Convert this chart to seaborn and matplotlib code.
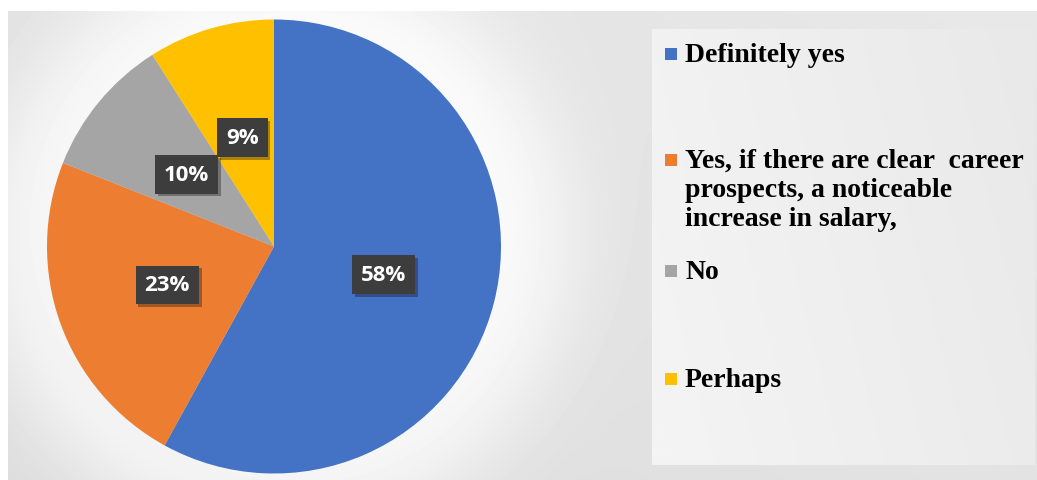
import numpy as np
import seaborn as sns
import matplotlib.pyplot as plt
import matplotlib.patheffects as pe
from matplotlib.patches import Rectangle

# survey answers and their shares (%)
answers = ['Definitely yes',
           'Yes, if there are clear  career\nprospects, a noticeable\nincrease in salary,',
           'No',
           'Perhaps']
shares = [58, 23, 10, 9]
office_colors = ['#4472C4', '#ED7D31', '#A5A5A5', '#FFC000']

sns.set_theme(style='white')
palette = sns.color_palette(office_colors)

W, H = 1037, 481
fig = plt.figure(figsize=(W / 100, H / 100), dpi=100, facecolor='white')

# background panel with a soft glow round the pie
bg = fig.add_axes([0, 0, 1, 1])
bg.axis('off')
cx, cy, r = 274, 247.5, 227
xx, yy = np.meshgrid(np.arange(8, W), np.arange(12, H))
d = np.hypot(xx - cx, yy - cy)
shade = 0.86 + 0.02 * (1 - yy / H) + 0.03 * (xx / W)
glow = 0.09 * np.exp(-((d - r) / 80.0) ** 2) * (d > r - 5)
img = np.clip(shade + glow, 0, 1)
bg.imshow(img, cmap='gray', vmin=0, vmax=1, extent=[8, W, H, 12],
          interpolation='bilinear', zorder=0)

# legend box
lx0, ly0, lx1, ly1 = 652, 30, 1035, 466
lxx, lyy = np.meshgrid(np.linspace(0, 1, 200), np.linspace(0, 1, 200))
leg_img = 0.945 - 0.035 * lxx + 0.01 * lyy
bg.imshow(leg_img, cmap='gray', vmin=0, vmax=1, extent=[lx0, lx1, ly1, ly0],
          interpolation='bilinear', zorder=1)
bg.set_xlim(0, W)
bg.set_ylim(H, 0)

baselines = [62, 168, 279, 387]
line_step = 29
for label, color, base in zip(answers, palette, baselines):
    bg.add_patch(Rectangle((665, base - 13), 12, 12, color=color, lw=0, zorder=2))
    for i, line in enumerate(label.split('\n')):
        bg.text(685, base + i * line_step, line, fontsize=20, fontweight='bold',
                family='Liberation Serif', va='baseline', ha='left',
                color='black', zorder=3)

# the pie itself
ax = fig.add_axes([(cx - r) / W, (H - cy - r) / H, 2 * r / W, 2 * r / H])
wedges, texts, autotexts = ax.pie(
    shares, colors=palette, startangle=90, counterclock=False,
    autopct='%d%%', pctdistance=0.5, radius=1.0,
    wedgeprops=dict(linewidth=0),
    textprops=dict(color='white', fontsize=16, fontweight='bold',
                   family='Open Sans'))
ax.set_xlim(-1, 1)
ax.set_ylim(-1, 1)
ax.set_aspect('equal')

for t in autotexts:
    t.set_bbox(dict(boxstyle='square,pad=0.4', fc='#3d3d3d', ec='none'))
    t.get_bbox_patch().set_path_effects(
        [pe.SimplePatchShadow(offset=(2, -2), alpha=0.35), pe.Normal()])

fig.savefig('out.png', dpi=100, facecolor='white')
